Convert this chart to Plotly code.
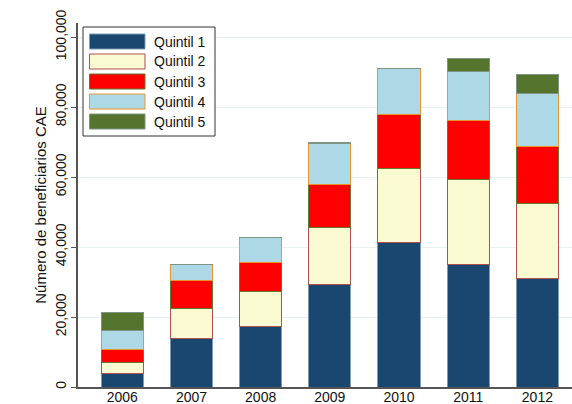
import plotly.graph_objects as go

years = ["2006", "2007", "2008", "2009", "2010", "2011", "2012"]
quintil_1 = [3900, 14000, 17200, 29200, 41400, 35100, 30900]
quintil_2 = [3200, 8500, 10100, 16300, 20900, 24100, 21500]
quintil_3 = [3600, 7900, 8400, 12300, 15500, 16900, 16200]
quintil_4 = [5500, 4500, 7000, 11800, 13200, 14100, 15200]
quintil_5 = [5100, 200, 100, 200, 100, 3600, 5400]
names = ["Quintil 1", "Quintil 2", "Quintil 3", "Quintil 4", "Quintil 5"]
y_ticks = [0, 20000, 40000, 60000, 80000, 100000]

series = [quintil_1, quintil_2, quintil_3, quintil_4, quintil_5]
fills = ["#1a476f", "#fafad2", "#ff0000", "#add8e6", "#55752f"]
lines = ["#7f9bb0", "#b0504f", "#5f7a32", "#e8952f", "#7f9485"]

FONT = "Liberation Sans, Arial, Helvetica, sans-serif"
W, H = 572, 404
L, R, T, B = 78, 0, 23, 17

fig = go.Figure()
for name, vals, fc, lc in zip(names, series, fills, lines):
    fig.add_trace(go.Bar(x=years, y=vals, name=name, marker=dict(color=fc, line=dict(color=lc, width=1)),
                         showlegend=False))

# custom legend (Stata-like wide swatches)
pw, ph = W - L - R, H - T - B
def px(x):
    return (x - L) / pw
def py(y):
    return (H - B - y) / ph

shapes = [dict(type="rect", xref="paper", yref="paper", x0=px(83), x1=px(215), y0=py(136), y1=py(27),
               line=dict(color="#333333", width=1), fillcolor="white", layer="above")]
annotations = []
for i, (name, fc, lc) in enumerate(zip(names, fills, lines)):
    cy = 41.5 + 20 * i
    shapes.append(dict(type="rect", xref="paper", yref="paper", x0=px(89.5), x1=px(145), y0=py(cy + 7.5), y1=py(cy - 7.5),
                       line=dict(color=lc, width=1), fillcolor=fc, layer="above"))
    annotations.append(dict(x=px(152), y=py(cy), xref="paper", yref="paper", text=name, showarrow=False,
                            xanchor="left", yanchor="middle", font=dict(family=FONT, size=14, color="#111111")))

fig.update_layout(
    width=W, height=H, barmode="stack", bargap=0.39,
    margin=dict(l=L, r=R, t=T, b=B, autoexpand=False),
    paper_bgcolor="white", plot_bgcolor="white",
    font=dict(family=FONT, size=14, color="#111111"),
    shapes=shapes, annotations=annotations,
    xaxis=dict(range=[-0.64, 6.5], showline=True, linecolor="#555555", linewidth=1.5, ticks="",
               tickfont=dict(size=14), showgrid=False, automargin=False, ticklabelstandoff=-4),
    yaxis=dict(range=[0, 104000], tickvals=y_ticks, tickformat=",d", tickangle=-90, ticks="outside",
               ticklen=5, tickcolor="#555555", showline=True, linecolor="#555555", linewidth=1.5,
               showgrid=True, gridcolor="#e8f0f2", gridwidth=1, zeroline=False, automargin=False,
               title=dict(text="Número de beneficiarios CAE", font=dict(size=15), standoff=2)),
)

fig.write_html("out.html", config={"displayModeBar": False},
               post_script="document.body.style.margin='0';document.body.style.overflow='hidden';")
